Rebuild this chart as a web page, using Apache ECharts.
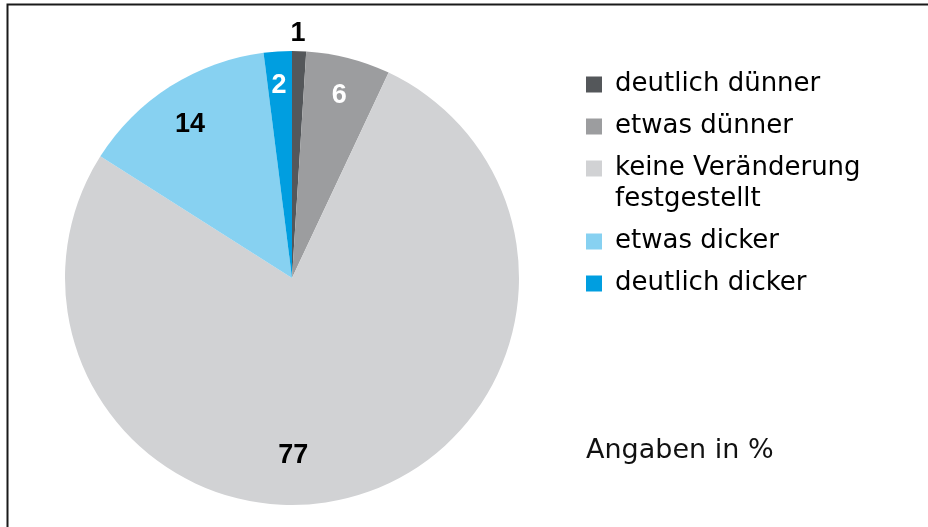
<!DOCTYPE html>
<html>
<head>
<meta charset="utf-8">
<script src="https://cdn.jsdelivr.net/npm/echarts@6/dist/echarts.min.js"></script>
<style>
  html, body { margin: 0; padding: 0; background: #fff; }
  #chart { width: 928px; height: 527px; }
</style>
</head>
<body>
<div id="chart"></div>
<script>
// Werte in %
const categories = ['deutlich dünner', 'etwas dünner', 'keine Veränderung\nfestgestellt', 'etwas dicker', 'deutlich dicker']
const values = [1, 6, 77, 14, 2]
const unitNote = 'Angaben in %'

const colors = ['#54575a', '#9c9d9f', '#d1d2d4', '#87d1f1', '#009ee0']
const labelColors = ['#000', '#fff', '#000', '#000', '#fff']
// kleine Korrekturen fuer die Beschriftung ("1" oberhalb, "77" unten mittig)
const labelOffsets = [[0, -54], [0, 2], [-52, -5], [0, 7], [-1, -2]]

const chart = echarts.init(document.getElementById('chart'))

const legendText = {
  fontFamily: 'DejaVu Sans',
  fontSize: 26,
  lineHeight: 31,
  color: '#000',
  padding: [0, 0, 0, 8]
}
const legendCommon = {
  orient: 'vertical',
  left: 586,
  padding: 0,
  itemWidth: 16,
  itemHeight: 16,
  itemGap: 11,
  icon: 'rect',
  selectedMode: false,
  textStyle: legendText
}

const option = {
  backgroundColor: '#fff',
  animation: false,
  title: {
    text: unitNote,
    left: 586,
    top: 435,
    padding: 0,
    textStyle: {
      fontFamily: 'DejaVu Sans',
      fontSize: 27,
      lineHeight: 32,
      fontWeight: 'normal',
      color: '#111'
    }
  },
  legend: [
    Object.assign({}, legendCommon, {
      top: 69,
      data: categories.slice(0, 2)
    }),
    Object.assign({}, legendCommon, {
      // leere erste Zeile, damit das Kaestchen an der ersten Textzeile steht
      top: 122,
      data: categories.slice(2, 3),
      formatter: name => '\n' + name
    }),
    Object.assign({}, legendCommon, {
      top: 226,
      data: categories.slice(3)
    })
  ],
  graphic: [
    {
      type: 'polyline',
      shape: { points: [[7.5, 527], [7.5, 4.5], [928, 4.5]] },
      style: { stroke: '#1a1a1a', lineWidth: 2, fill: null },
      silent: true
    }
  ],
  series: [
    {
      type: 'pie',
      center: [292, 278],
      radius: 227,
      startAngle: 90,
      clockwise: true,
      silent: true,
      label: { show: false },
      labelLine: { show: false },
      itemStyle: { borderWidth: 0 },
      data: categories.map((name, i) => ({
        name: name,
        value: values[i],
        itemStyle: { color: colors[i] }
      }))
    },
    {
      // unsichtbarer Ring nur fuer die Zahlen
      type: 'pie',
      center: [292, 278],
      radius: [148, 227],
      startAngle: 90,
      clockwise: true,
      silent: true,
      legendHoverLink: false,
      z: 3,
      itemStyle: { color: 'transparent', borderWidth: 0 },
      labelLine: { show: false },
      data: categories.map((name, i) => ({
        name: name,
        value: values[i],
        label: {
          show: true,
          position: 'inside',
          formatter: '{c}',
          color: labelColors[i],
          offset: labelOffsets[i],
          fontFamily: 'Liberation Sans',
          fontWeight: 'bold',
          fontSize: 27
        }
      }))
    }
  ]
}

chart.setOption(option)
</script>
</body>
</html>
